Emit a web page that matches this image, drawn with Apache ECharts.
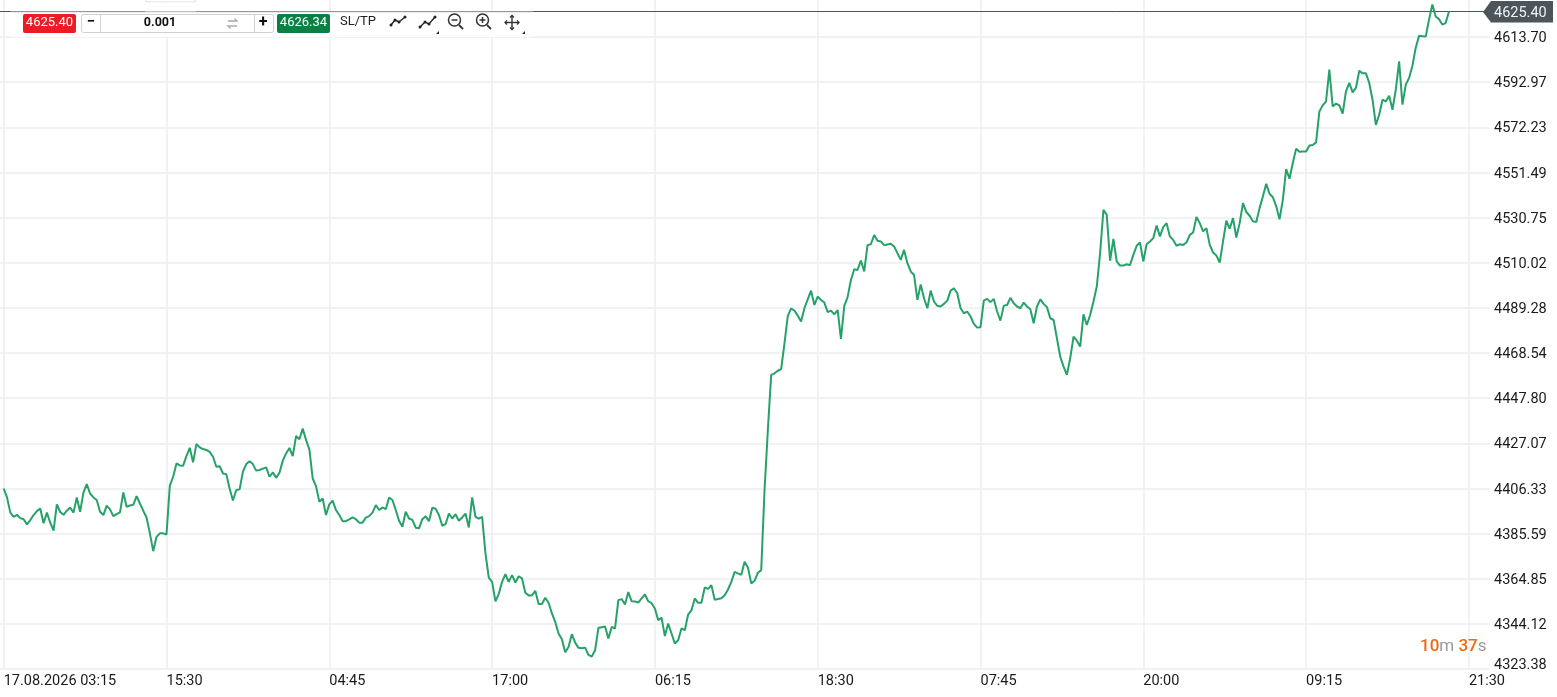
<!DOCTYPE html>
<html><head><meta charset="utf-8">
<style>html,body{margin:0;padding:0;background:#fff}#c{width:1557px;height:697px}</style>
<script src="https://cdn.jsdelivr.net/npm/echarts@6/dist/echarts.min.js"></script>
</head><body><div id="c"></div>
<script>
const closes = [
4406.3,4402.2,4395.2,4393.3,4394.2,4392.7,4392.2,4389.8,4391.8,4394.1,4395.9,4397.1,4390.3,4395.2,4390.6,4386.9,4399.0,4395.5,4394.2,4396.1,
4397.6,4395.2,4402.2,4395.6,4404.4,4408.3,4404.0,4402.2,4401.0,4395.6,4394.1,4398.4,4396.7,4393.6,4394.5,4395.3,4404.5,4397.9,4398.5,4398.8,
4402.8,4399.4,4396.1,4393.0,4385.7,4377.5,4384.1,4385.7,4385.7,4385.2,4407.6,4411.7,4417.8,4416.9,4416.8,4421.2,4425.0,4418.3,4426.7,4425.2,
4424.4,4424.0,4423.1,4420.9,4416.3,4416.5,4413.2,4412.9,4406.3,4400.8,4405.6,4405.9,4414.0,4417.5,4418.8,4417.5,4414.5,4414.8,4415.4,4416.0,
4411.7,4413.7,4411.2,4413.5,4419.1,4422.4,4424.9,4421.2,4430.4,4428.9,4433.8,4428.6,4424.3,4410.9,4407.4,4400.2,4401.7,4394.1,4399.0,4400.7,
4396.4,4394.1,4391.3,4391.3,4392.1,4393.0,4392.2,4390.6,4390.6,4392.9,4393.6,4395.2,4398.7,4396.4,4397.6,4396.8,4402.2,4401.0,4396.4,4391.5,
4388.7,4395.6,4392.5,4391.9,4388.3,4388.0,4392.2,4393.5,4391.3,4397.5,4397.0,4394.1,4389.2,4389.9,4394.8,4392.5,4394.5,4391.5,4393.0,4394.8,
4388.4,4402.2,4393.3,4392.5,4393.3,4376.5,4365.4,
4363.4,4354.5,4357.8,4363.4,4367.0,4363.4,4366.5,4363.1,4366.0,4365.0,4358.4,4357.2,4357.2,4359.3,4353.2,4353.2,4356.1,4353.8,4348.9,4345.0,
4339.7,4337.1,4331.1,4333.5,4339.4,4335.5,4333.1,4332.9,4333.2,4329.9,4329.1,4332.0,4342.3,4342.6,4342.9,4337.4,4342.7,4342.0,4355.0,4355.5,
4353.0,4358.7,4354.5,4354.4,4353.9,4355.8,4357.6,4354.5,4353.6,4351.2,4345.8,4347.0,4338.5,4344.3,4339.7,4335.1,4336.6,4342.0,4341.2,4348.4,
4350.4,4355.8,4353.8,4353.8,4360.8,4360.2,4361.9,4355.2,4355.5,4355.9,4357.3,4359.9,4363.4,4368.0,4367.3,4366.7,4372.6,4370.0,4362.7,4363.9,
4367.6,4368.8,4405.6,4433.2,
4458.5,4459.2,4460.4,4461.1,4473.0,4485.6,4489.0,4488.0,4485.7,4483.0,4489.1,4493.2,4497.2,4490.6,4494.5,4492.9,4491.7,4487.3,4488.0,4486.3,
4488.3,4475.0,4490.2,4494.2,4502.1,4507.0,4506.7,4511.0,4506.0,4518.1,4518.5,4522.7,4520.1,4519.8,4518.1,4518.4,4518.7,4517.5,4514.4,4511.3,
4515.9,4509.8,4506.0,4504.4,4492.9,4500.0,4493.7,4489.1,4497.2,4492.2,4490.2,4489.9,4491.1,4492.6,4497.2,4498.3,4496.0,4489.1,4486.8,4487.6,
4485.3,4481.9,4480.2,4480.4,4492.6,4493.4,4491.9,4493.4,4487.6,4483.4,4490.3,4490.6,4493.9,4491.4,4489.9,4489.1,4491.7,4489.9,4488.6,4482.2,
4489.9,4493.2,4491.1,4489.6,4484.5,4483.7,4475.3,4466.9,4462.3,4458.5,4466.1,4476.1,4474.2,4471.5,4486.3,4481.4,4486.0,4492.2,4499.1,4514.4,
4534.3,4532.0,4510.9,4521.0,4510.6,4508.7,4508.7,4509.3,4508.9,4513.6,4517.8,4519.3,4510.6,4518.5,4519.8,4521.3,4527.1,4522.1,4526.4,4528.2,
4522.1,4520.5,4517.8,4518.5,4518.2,4519.3,4522.8,4523.9,4531.0,4528.2,4524.4,4525.9,4518.2,4514.7,4513.3,4510.1,4519.8,4529.3,4525.6,4530.5,
4521.6,4528.2,4537.4,4533.3,4531.6,4529.0,4528.7,4535.1,4540.5,4546.3,4541.7,4540.1,4535.9,4530.0,4538.9,4553.0,4548.6,4555.8,4562.4,4561.0,
4561.1,4561.1,4563.9,4564.1,4565.3,4579.5,4582.3,4584.1,4598.7,4581.8,4583.1,4582.3,4578.5,4588.7,4592.6,4588.3,4590.3,4598.2,4597.0,4597.0,
4592.6,4584.9,4573.3,4578.0,4584.9,4584.1,4586.7,4580.3,4589.5,4602.5,4582.6,4591.8,4594.9,4600.5,4608.8,4614.3,4614.1,4613.9,4621.7,
4628.6,4623.1,4621.9,4619.4,4620.1,4625.4
];
const xLabels = ["17.08.2026 03:15","15:30","04:45","17:00","06:15","18:30","07:45","20:00","09:15","21:30"];
const xTickBars = [0,49,98,147,196,245,294,343,392,441];
const yTicks = [4323.38,4344.12,4364.85,4385.59,4406.33,4427.07,4447.80,4468.54,4489.28,4510.02,4530.75,4551.49,4572.23,4592.97,4613.70];
const bidPrice = "4625.40", askPrice = "4626.34", lotSize = "0.001", bidValue = 4625.40;
const countdownMin = "10", countdownSec = "37";

const FONT = "Roboto";
const lineData = closes.map((v,i)=>[i,v]);
function rect(x,y,w,h,fill,stroke,r,z){return {type:'rect',z:z||100,silent:true,shape:{x,y,width:w,height:h,r:r||0},style:{fill:fill||'none',stroke:stroke||'none',lineWidth:1}};}
function text(x,y,t,o){o=o||{};return {type:'text',z:o.z||102,silent:true,x,y,style:{text:t,fill:o.fill||'#111',font:(o.w||'400')+' '+(o.s||13)+'px '+FONT,align:o.a||'center',verticalAlign:'middle'}};}
function pl(pts,c,w){return {type:'polyline',z:102,silent:true,shape:{points:pts},style:{stroke:c||'#222',lineWidth:w||1.5,fill:'none'}};}
function circ(x,y,r,c){return {type:'circle',z:102,silent:true,shape:{cx:x,cy:y,r},style:{stroke:c||'#333',lineWidth:1.5,fill:'none'}};}
function dot(x,y){return {type:'circle',z:102,silent:true,shape:{cx:x,cy:y,r:1.5},style:{fill:'#222'}};}
function tri(x,y){return {type:'polygon',z:102,silent:true,shape:{points:[[x,y],[x-3,y],[x,y-3]]},style:{fill:'#222'}};}

const toolbar = [
  rect(145,-6,51,8,'#fff','#ddd',3),
  rect(145,2.5,51,9,'#fff'),
  rect(11,12,522,25,'#fff'),
  {type:'line',z:101,silent:true,shape:{x1:11,y1:12,x2:533,y2:12},style:{stroke:'#d9dbdd',lineWidth:1}},
  rect(23,14,53,19,'#ed1c24',null,2),
  text(49.5,23,bidPrice,{fill:'#fff',s:13}),
  rect(81.5,14.5,192,18,'#fff','#cfd1d3',2),
  {type:'line',z:101,silent:true,shape:{x1:100.5,y1:14.5,x2:100.5,y2:32.5},style:{stroke:'#cfd1d3'}},
  {type:'line',z:101,silent:true,shape:{x1:254.5,y1:14.5,x2:254.5,y2:32.5},style:{stroke:'#cfd1d3'}},
  text(91,22.5,'−',{w:'700',s:15}),
  text(160,22.5,lotSize,{w:'700',s:12.5}),
  text(263,22.5,'+',{w:'700',s:16}),
  pl([[228,21],[237,21],[234.5,18.5]],'#aaa',1.3),
  pl([[237,26],[228,26],[230.5,28.5]],'#aaa',1.3),
  rect(277,14,53,19,'#0a8044',null,2),
  text(303.5,23,askPrice,{fill:'#fff',s:13}),
  text(358,21.5,'SL/TP',{s:13,fill:'#222'}),
  pl([[391,25],[395,20],[399,22],[405,17]],'#222',1.4),
  dot(391,25),dot(395,20),dot(399,22),dot(405,17),
  pl([[420,27],[425,22],[429,24],[435,17]],'#222',1.4),
  dot(420,27),dot(425,22),dot(429,24),dot(435,17),
  tri(439,34),
  circ(454.5,20,6),pl([[451.5,20],[457.5,20]],'#333',1.5),pl([[459,25],[463,29]],'#333',1.8),
  circ(482.5,20,6),pl([[479.5,20],[485.5,20]],'#333',1.5),pl([[482.5,17],[482.5,23]],'#333',1.5),pl([[487,25],[491,29]],'#333',1.8),
  pl([[505,22.5],[519,22.5]],'#333',1.4),pl([[512,15.5],[512,29.5]],'#333',1.4),
  pl([[507,20.5],[505,22.5],[507,24.5]],'#333',1.3),pl([[517,20.5],[519,22.5],[517,24.5]],'#333',1.3),
  pl([[510,17.5],[512,15.5],[514,17.5]],'#333',1.3),pl([[510,27.5],[512,29.5],[514,27.5]],'#333',1.3),
  tri(525,34),
  {type:'polygon',z:100,silent:true,shape:{points:[[1483,12],[1491,1],[1553,1],[1553,22.5],[1491,22.5]]},style:{fill:'#4d555c'}},
  text(1494,13,bidPrice,{fill:'#f2f2f2',s:14.5,a:'left'}),
  {type:'text',z:102,silent:true,x:1420,y:647,style:{
    text:`{o|${countdownMin}}{g|m }{o|${countdownSec}}{g|s}`,verticalAlign:'middle',align:'left',
    rich:{o:{fill:'#ee6a12',font:'500 17px '+FONT},g:{fill:'#9a9a9a',font:'400 17px '+FONT}}
  }}
];

const chart = echarts.init(document.getElementById('c'),null,{renderer:'canvas'});
const barPx = 162.8/49;
chart.setOption({
  animation:false,
  backgroundColor:'#fff',
  grid:{left:0,right:67,top:0,bottom:28,containLabel:false},
  xAxis:{type:'value',min:-3.7/barPx,max:1486.3/barPx,
    axisLine:{show:false},axisTick:{show:false,customValues:xTickBars},
    splitLine:{show:true,lineStyle:{color:'#eceef0',width:1.5}},
    axisLabel:{customValues:xTickBars,align:'left',margin:5,color:'#1a1a1a',fontFamily:FONT,fontSize:14.5,
      formatter:v=>xLabels[xTickBars.indexOf(v)]||'',hideOverlap:false,showMinLabel:true,showMaxLabel:true}},
  yAxis:{type:'value',position:'right',min:4323.38,max:4630.70,
    axisLine:{show:false},axisTick:{show:false,customValues:yTicks},
    splitLine:{show:true,lineStyle:{color:'#eceef0',width:1.5}},
    axisLabel:{customValues:yTicks,margin:4,color:'#1a1a1a',fontFamily:FONT,fontSize:14.5,align:'left',padding:[3,0,0,0],
      formatter:v=>v===yTicks[0]?`{low|${v.toFixed(2)}}`:v.toFixed(2),
      rich:{low:{fontFamily:FONT,fontSize:14.5,color:'#1a1a1a',padding:[0,0,11,0]}},
      showMinLabel:true,showMaxLabel:true}},
  series:[{type:'line',data:lineData,showSymbol:false,smooth:false,clip:true,
    lineStyle:{color:'#26a269',width:2},itemStyle:{color:'#26a269'},z:5,
    markLine:{silent:true,symbol:'none',label:{show:false},animation:false,
      lineStyle:{color:'#4d555c',width:1,type:'solid'},data:[{yAxis:bidValue}]}}],
  graphic:{elements:toolbar}
});
</script></body></html>
